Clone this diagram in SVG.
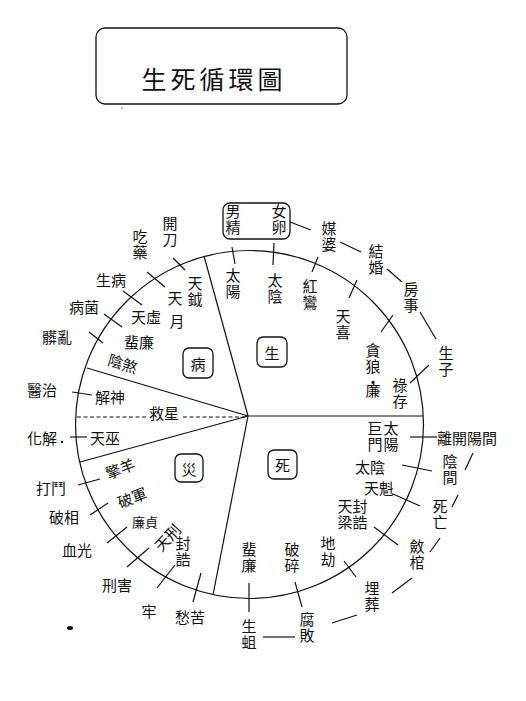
<svg xmlns="http://www.w3.org/2000/svg" width="526" height="701" viewBox="0 0 526 701">
<defs>
<style>
.t{font-family:"Noto Sans CJK TC","Noto Sans CJK SC",sans-serif;font-size:15px;fill:#111;text-anchor:middle;dominant-baseline:central}
.v{writing-mode:vertical-rl;text-orientation:upright;letter-spacing:1px}
.s{font-size:13px}
.ln{stroke:#111;stroke-width:1.2;fill:none}
.bx{stroke:#111;stroke-width:1.3;fill:none}
</style>
</defs>
<rect width="526" height="701" fill="#fff"/>
<g id="title">
<rect class="bx" x="96" y="28" width="251" height="76" rx="9"/>
<text class="t" x="214" y="78" style="font-size:25px;letter-spacing:4px">生死循環圖</text>
</g>
<g id="wheel">
<circle class="ln" cx="249.5" cy="424.5" r="174"/>
<line class="ln" x1="248" y1="416" x2="204" y2="256"/>
<line class="ln" x1="248" y1="416" x2="87" y2="368"/>
<line class="ln" x1="248" y1="416" x2="80" y2="462"/>
<line class="ln" x1="248" y1="416" x2="213" y2="595"/>
<line class="ln" x1="248" y1="416" x2="423" y2="416"/>
<line class="ln" x1="77" y1="417" x2="146" y2="417" stroke-dasharray="4,2.5"/>
<line class="ln" x1="183" y1="417" x2="248" y2="417" stroke-dasharray="4,2.5"/>
</g>
<g id="connectors">
<line class="ln" x1="232" y1="247" x2="235" y2="264"/>
<line class="ln" x1="274" y1="243" x2="273" y2="265"/>
<line class="ln" x1="290" y1="222" x2="311" y2="230"/>
<line class="ln" x1="318" y1="257" x2="312" y2="272"/>
<line class="ln" x1="340" y1="242" x2="361" y2="252"/>
<line class="ln" x1="357" y1="280" x2="349" y2="298"/>
<line class="ln" x1="387" y1="269" x2="402" y2="282"/>
<line class="ln" x1="393" y1="315" x2="381" y2="332"/>
<line class="ln" x1="420" y1="312" x2="436" y2="339"/>
<line class="ln" x1="429" y1="365" x2="410" y2="383"/>
<line class="ln" x1="410" y1="437" x2="437" y2="437"/>
<line class="ln" x1="473" y1="453" x2="465" y2="470"/>
<line class="ln" x1="402" y1="465" x2="432" y2="471"/>
<line class="ln" x1="458" y1="495" x2="452" y2="507"/>
<line class="ln" x1="393" y1="494" x2="420" y2="506"/>
<line class="ln" x1="440" y1="538" x2="430" y2="552"/>
<line class="ln" x1="374" y1="527" x2="398" y2="545"/>
<line class="ln" x1="344" y1="561" x2="356" y2="577"/>
<line class="ln" x1="412" y1="578" x2="392" y2="593"/>
<line class="ln" x1="357" y1="615" x2="332" y2="623"/>
<line class="ln" x1="295" y1="582" x2="302" y2="607"/>
<line class="ln" x1="263" y1="637" x2="295" y2="637"/>
<line class="ln" x1="249" y1="583" x2="249" y2="612"/>
<line class="ln" x1="201" y1="573" x2="193" y2="602"/>
<line class="ln" x1="175" y1="565" x2="157" y2="588"/>
<line class="ln" x1="127" y1="567" x2="149" y2="548"/>
<line class="ln" x1="107" y1="543" x2="127" y2="527"/>
<line class="ln" x1="90" y1="515" x2="108" y2="503"/>
<line class="ln" x1="78" y1="485" x2="100" y2="479"/>
<line class="ln" x1="70" y1="437" x2="87" y2="437"/>
<line class="ln" x1="72" y1="392" x2="92" y2="395"/>
<line class="ln" x1="89" y1="332" x2="103" y2="343"/>
<line class="ln" x1="104" y1="314" x2="122" y2="327"/>
<line class="ln" x1="123" y1="291" x2="142" y2="305"/>
<line class="ln" x1="147" y1="272" x2="165" y2="287"/>
<line class="ln" x1="173" y1="258" x2="185" y2="270"/>
</g>
<g id="sector-labels">
<g id="lbl-sheng"><rect class="bx" x="257" y="337" width="30" height="30" rx="6"/><text class="t" x="272" y="352">生</text></g>
<g id="lbl-bing"><rect class="bx" x="183" y="348" width="30" height="30" rx="6"/><text class="t" x="198" y="363">病</text></g>
<g id="lbl-zai"><rect class="bx" x="175" y="454" width="28" height="28" rx="6"/><text class="t" x="189" y="468">災</text></g>
<g id="lbl-si"><rect class="bx" x="268" y="450" width="29" height="29" rx="6"/><text class="t" x="282.5" y="464.5">死</text></g>
</g>
<g id="n-nanjing-nvluan">
<rect class="bx" x="223" y="203" width="67" height="36" rx="7"/>
<text class="t v" x="233" y="220">男精</text>
<text class="t v" x="279" y="220">女卵</text>
</g>
<g id="n-sheng">
<text class="t v" x="233" y="284">太陽</text>
<text class="t v" x="275" y="289">太陰</text>
<text class="t v" x="310" y="295">紅鸞</text>
<text class="t v" x="343" y="325">天喜</text>
<text class="t v" x="373" y="371">貪狼<tspan style="letter-spacing:-7px">·</tspan>廉</text>
<text class="t v" x="400" y="394">祿存</text>
<text class="t v" x="329" y="237">媒婆</text>
<text class="t v" x="376" y="260">結婚</text>
<text class="t v" x="411" y="298">房事</text>
<text class="t v" x="446" y="362">生子</text>
</g>
<g id="n-si">
<text class="t v" x="375" y="437">巨門</text>
<text class="t v" x="391" y="437">太陽</text>
<text class="t" x="467" y="437">離開陽間</text>
<text class="t" x="370" y="466">太陰</text>
<text class="t v" x="450" y="470">陰間</text>
<text class="t" x="379" y="487">天魁</text>
<text class="t v" x="440" y="515">死亡</text>
<text class="t v" x="345" y="515">天梁</text>
<text class="t v" x="360" y="515">封誥</text>
<text class="t v" x="417" y="555">斂棺</text>
<text class="t v" x="328" y="552">地劫</text>
<text class="t v" x="372" y="597">埋葬</text>
<text class="t v" x="292" y="558">破碎</text>
<text class="t v" x="249" y="558">蜚廉</text>
<text class="t v" x="307" y="628">腐敗</text>
<text class="t v" x="249" y="635">生蛆</text>
</g>
<g id="n-zai">
<text class="t" transform="translate(120,468) rotate(-21)">擎羊</text>
<text class="t" x="51" y="487">打鬥</text>
<text class="t" transform="translate(132,497) rotate(-21)">破軍</text>
<text class="t" x="64" y="516">破相</text>
<text class="t s" x="145" y="521">廉貞</text>
<text class="t" x="77" y="549">血光</text>
<text class="t" transform="translate(167,537) rotate(-47)">天刑</text>
<text class="t" x="117" y="584">刑害</text>
<text class="t v" x="183" y="552">封誥</text>
<text class="t" x="149" y="610">牢</text>
<text class="t" x="190" y="616">愁苦</text>
</g>
<g id="n-bing">
<text class="t v" x="170" y="232">開刀</text>
<text class="t v" x="140" y="245">吃藥</text>
<text class="t v" x="195" y="292">天鉞</text>
<text class="t" x="175" y="297">天</text>
<text class="t" x="177" y="320">月</text>
<text class="t" x="111" y="279">生病</text>
<text class="t" x="146" y="316">天虛</text>
<text class="t" x="84" y="306">病菌</text>
<text class="t" x="139" y="341">蜚廉</text>
<text class="t" x="57" y="336">髒亂</text>
<text class="t" transform="translate(123,363) rotate(17)">陰煞</text>
<text class="t" x="42" y="389">醫治</text>
<text class="t" x="110" y="396">解神</text>
<text class="t" x="164" y="412">救星</text>
<text class="t" x="42" y="437">化解</text>
<text class="t" x="105" y="437">天巫</text>
</g>
<g id="marks">
<circle cx="62" cy="442" r="1.2" fill="#111"/>
<ellipse cx="70" cy="628" rx="3" ry="2" fill="#111"/>
<circle cx="122" cy="108" r="0.8" fill="#555"/>
</g>
</svg>
